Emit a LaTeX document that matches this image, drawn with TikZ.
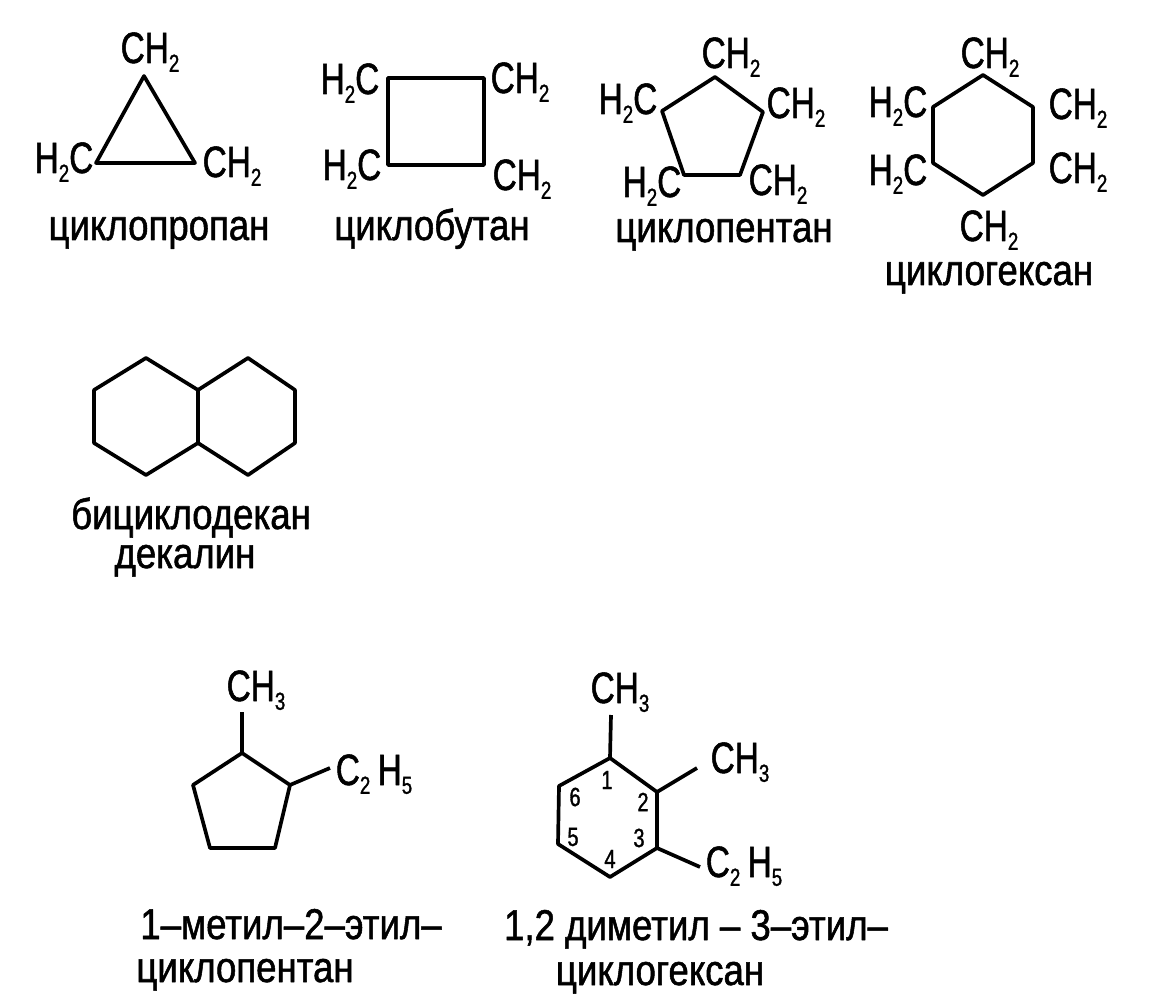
\documentclass[tikz,border=0pt]{standalone}
\usepackage{fontspec}
\setmainfont[FakeStretch=0.85,FakeBold=1.2]{Liberation Sans}
\newfontfamily\atomfont[FakeStretch=0.76,FakeBold=1.2]{Liberation Sans}
\newcommand{\lowidx}[1]{\raisebox{-5pt}{\fontsize{14}{14}\selectfont #1}}
\begin{document}
\begin{tikzpicture}[x=0.02cm,y=-0.02cm,line join=round,
	ring/.style={draw,line width=2.1pt},
	atom/.style={inner sep=0,anchor=base,font=\atomfont\fontsize{25}{25}\selectfont},
	title/.style={inner sep=0,anchor=base,font=\fontsize{24.5}{25}\selectfont},
	digit/.style={inner sep=0,font=\atomfont\fontsize{15}{15}\selectfont}]
	\useasboundingbox (0,0) rectangle (1150,1000);
	% cyclopropane
	\coordinate (a1) at (144,76);
	\coordinate (a2) at (195,163);
	\coordinate (a3) at (96,163);
	\draw[ring] (a1) -- (a2) -- (a3) -- cycle;
	\node[atom] (a1t) at (150,63) {CH\lowidx{2}};
	\node[atom] (a2t) at (232,177) {CH\lowidx{2}};
	\node[atom] (a3t) at (64,173) {H\lowidx{2}C};
	\node[title] (an) at (159,240) {циклопропан};
	% cyclobutane
	\coordinate (b1) at (388,78);
	\coordinate (b2) at (484,78);
	\coordinate (b3) at (484,165);
	\coordinate (b4) at (388,165);
	\draw[ring] (b1) -- (b2) -- (b3) -- (b4) -- cycle;
	\node[atom] (b1t) at (350,94) {H\lowidx{2}C};
	\node[atom] (b2t) at (520,93) {CH\lowidx{2}};
	\node[atom] (b3t) at (522,190) {CH\lowidx{2}};
	\node[atom] (b4t) at (352,180) {H\lowidx{2}C};
	\node[title] (bn) at (432,240) {циклобутан};
	% cyclopentane
	\coordinate (c1) at (715,77);
	\coordinate (c2) at (763,112);
	\coordinate (c3) at (740,175);
	\coordinate (c4) at (684,175);
	\coordinate (c5) at (662,111);
	\draw[ring] (c1) -- (c2) -- (c3) -- (c4) -- (c5) -- cycle;
	\node[atom] (c1t) at (731,68) {CH\lowidx{2}};
	\node[atom] (c2t) at (796,118) {CH\lowidx{2}};
	\node[atom] (c3t) at (778,195) {CH\lowidx{2}};
	\node[atom] (c4t) at (652,197) {H\lowidx{2}C};
	\node[atom] (c5t) at (628,114) {H\lowidx{2}C};
	\node[title] (cn) at (724,242) {циклопентан};
	% cyclohexane
	\coordinate (d1) at (983,75);
	\coordinate (d2) at (1033,107);
	\coordinate (d3) at (1033,163);
	\coordinate (d4) at (983,195);
	\coordinate (d5) at (933,163);
	\coordinate (d6) at (933,107);
	\draw[ring] (d1) -- (d2) -- (d3) -- (d4) -- (d5) -- (d6) -- cycle;
	\node[atom] (d1t) at (990,68) {CH\lowidx{2}};
	\node[atom] (d2t) at (1078,119) {CH\lowidx{2}};
	\node[atom] (d3t) at (1078,183) {CH\lowidx{2}};
	\node[atom] (d4t) at (989,241) {CH\lowidx{2}};
	\node[atom] (d5t) at (898,185) {H\lowidx{2}C};
	\node[atom] (d6t) at (898,117) {H\lowidx{2}C};
	\node[title] (dn) at (989,285) {циклогексан};
	% decalin
	\coordinate (e1) at (146,358);
	\coordinate (e2) at (198,390);
	\coordinate (e3) at (198,443);
	\coordinate (e4) at (146,475);
	\coordinate (e5) at (94,443);
	\coordinate (e6) at (94,390);
	\coordinate (e7) at (248,358);
	\coordinate (e8) at (295,390);
	\coordinate (e9) at (295,443);
	\coordinate (e10) at (248,475);
	\draw[ring] (e1) -- (e2) -- (e3) -- (e4) -- (e5) -- (e6) -- cycle;
	\draw[ring] (e2) -- (e7) -- (e8) -- (e9) -- (e10) -- (e3);
	\node[title] (en1) at (191,529) {бициклодекан};
	\node[title] (en2) at (185,568) {декалин};
	% methyl-ethyl-cyclopentane
	\coordinate (f1) at (242,753);
	\coordinate (f2) at (290,785);
	\coordinate (f3) at (275,848);
	\coordinate (f4) at (210,848);
	\coordinate (f5) at (193,785);
	\coordinate (f6) at (242,712);
	\coordinate (f7) at (330,768);
	\draw[ring] (f1) -- (f2) -- (f3) -- (f4) -- (f5) -- cycle;
	\draw[ring] (f1) -- (f6);
	\draw[ring] (f2) -- (f7);
	\node[atom] (f6t) at (256,701) {CH\lowidx{3}};
	\node[atom] (f7t) at (374,785) {C\lowidx{2}\,H\lowidx{5}};
	\node[title] (fn1) at (291,939) {1--метил--2--этил--};
	\node[title] (fn2) at (245,982) {циклопентан};
	% dimethyl-ethyl-cyclohexane
	\coordinate (g1) at (610,758);
	\coordinate (g2) at (657,792);
	\coordinate (g3) at (657,848);
	\coordinate (g4) at (610,877);
	\coordinate (g5) at (558,844);
	\coordinate (g6) at (559,786);
	\coordinate (g7) at (611,715);
	\coordinate (g8) at (697,768);
	\coordinate (g9) at (700,867);
	\draw[ring] (g1) -- (g2) -- (g3) -- (g4) -- (g5) -- (g6) -- cycle;
	\draw[ring] (g1) -- (g7);
	\draw[ring] (g2) -- (g8);
	\draw[ring] (g3) -- (g9);
	\node[atom] (g7t) at (620,703) {CH\lowidx{3}};
	\node[atom] (g8t) at (740,773) {CH\lowidx{3}};
	\node[atom] (g9t) at (744,877) {C\lowidx{2}\,H\lowidx{5}};
	\node[digit] (n1) at (607,780) {1};
	\node[digit] (n2) at (643,802) {2};
	\node[digit] (n3) at (639,838) {3};
	\node[digit] (n4) at (610,859) {4};
	\node[digit] (n5) at (573,837) {5};
	\node[digit] (n6) at (575,797) {6};
	\node[title] (gn1) at (696,940) {1,2 диметил -- 3--этил--};
	\node[title] (gn2) at (660,985) {циклогексан};
\end{tikzpicture}
\end{document}
